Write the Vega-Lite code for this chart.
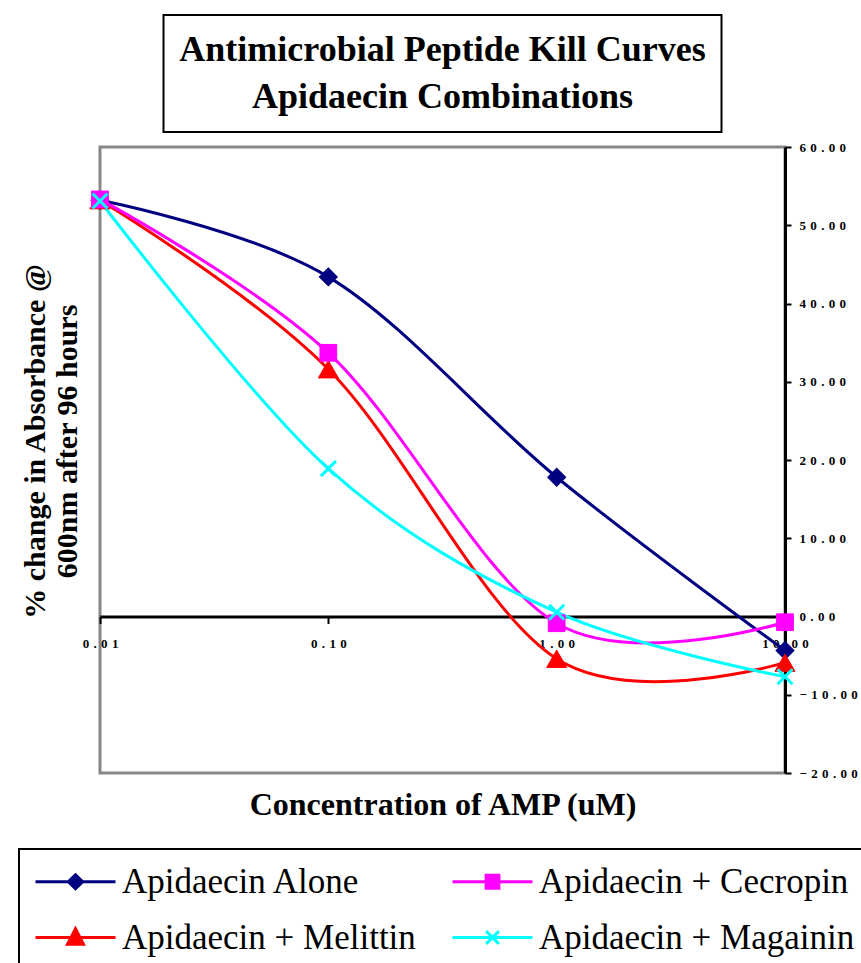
{
  "$schema": "https://vega.github.io/schema/vega-lite/v6.json",
  "background": "white",
  "padding": {"left": 18, "top": 14, "right": 0, "bottom": 0},
  "autosize": {"type": "pad"},
  "bounds": "flush",
  "center": true,
  "spacing": 15,
  "config": {
    "font": "Liberation Serif",
    "view": {"stroke": "#888888", "strokeWidth": 3},
    "axis": {"grid": false}
  },
  "vconcat": [
    {
      "width": 558,
      "height": 117,
      "view": {"stroke": "black", "strokeWidth": 2},
      "data": {"values": [
        {"line": 1, "text": "Antimicrobial Peptide Kill Curves"},
        {"line": 2, "text": "Apidaecin Combinations"}
      ]},
      "mark": {"type": "text", "font": "Liberation Serif", "fontWeight": "bold", "fontSize": 36, "baseline": "middle", "color": "black"},
      "encoding": {
        "y": {"field": "line", "type": "ordinal", "axis": null, "scale": {"type": "point", "padding": 0.76}},
        "text": {"field": "text"}
      }
    },
    {
      "width": 685,
      "height": 626,
      "data": {"values": [
        {"series": "Apidaecin Alone", "conc": 0.01, "pct": 53.2},
        {"series": "Apidaecin Alone", "conc": 0.1, "pct": 43.4},
        {"series": "Apidaecin Alone", "conc": 1, "pct": 17.8},
        {"series": "Apidaecin Alone", "conc": 10, "pct": -4.35},
        {"series": "Apidaecin + Melittin", "conc": 0.01, "pct": 53.2},
        {"series": "Apidaecin + Melittin", "conc": 0.1, "pct": 31.6},
        {"series": "Apidaecin + Melittin", "conc": 1, "pct": -5.4},
        {"series": "Apidaecin + Melittin", "conc": 10, "pct": -5.9},
        {"series": "Apidaecin + Cecropin", "conc": 0.01, "pct": 53.3},
        {"series": "Apidaecin + Cecropin", "conc": 0.1, "pct": 33.7},
        {"series": "Apidaecin + Cecropin", "conc": 1, "pct": -0.86},
        {"series": "Apidaecin + Cecropin", "conc": 10, "pct": -0.73},
        {"series": "Apidaecin + Magainin", "conc": 0.01, "pct": 53.1},
        {"series": "Apidaecin + Magainin", "conc": 0.1, "pct": 18.9},
        {"series": "Apidaecin + Magainin", "conc": 1, "pct": 0.55},
        {"series": "Apidaecin + Magainin", "conc": 10, "pct": -7.7}
      ]},
      "layer": [
        {
          "mark": {"type": "line", "interpolate": "cardinal", "strokeWidth": 3},
          "encoding": {
            "x": {"field": "conc", "type": "quantitative",
              "scale": {"type": "log", "domain": [0.01, 10]},
              "axis": {"orient": "bottom", "offset": -156.5, "values": [0.01, 0.1, 1, 10],
                "labelExpr": "join(split(format(datum.value, '.2f'), ''), '\u2004')",
                "labelFont": "Liberation Serif", "labelFontWeight": "bold", "labelFontSize": 13,
                "labelColor": "black", "labelPadding": 14, "labelFlush": false, "labelOverlap": false, "labelBound": false,
                "tickSize": 7, "tickWidth": 2, "tickColor": "black",
                "domainColor": "black", "domainWidth": 3, "title": null}},
            "y": {"field": "pct", "type": "quantitative",
              "scale": {"domain": [-20, 60], "nice": false, "zero": false},
              "axis": {"orient": "right", "values": [-20, -10, 0, 10, 20, 30, 40, 50, 60],
                "labelExpr": "join(split(format(datum.value, '.2f'), ''), '\u2004')",
                "labelFont": "Liberation Serif", "labelFontWeight": "bold", "labelFontSize": 13,
                "labelColor": "black", "labelPadding": 8, "labelFlush": false, "labelOverlap": false, "labelBound": false,
                "tickSize": 6, "tickWidth": 2, "tickColor": "black",
                "domainColor": "black", "domainWidth": 3, "title": null}},
            "color": {"field": "series", "type": "nominal",
              "scale": {"domain": ["Apidaecin Alone", "Apidaecin + Melittin", "Apidaecin + Cecropin", "Apidaecin + Magainin"],
                        "range": ["#000080", "#FF0000", "#FF00FF", "#00FFFF"]},
              "legend": {"orient": "none", "legendX": -81, "legendY": 834, "columns": 2, "title": null,
                "labelFont": "Liberation Serif", "labelFontSize": 35, "labelColor": "black", "labelLimit": 600,
                "labelOffset": 29, "symbolSize": 400, "symbolOffset": 24, "symbolStrokeWidth": 3,
                "columnPadding": 30, "rowPadding": 20, "padding": 15,
                "strokeColor": "black", "fillColor": "white",
                "encode": {
                  "legend": {"update": {"strokeWidth": {"value": 2}}},
                  "symbols": {"update": {
                    "shape": {"signal": "datum.value === 'Apidaecin Alone' ? 'M-4,0L4,0M0,-0.7L0.72,0L0,0.7L-0.72,0Z' : datum.value === 'Apidaecin + Cecropin' ? 'M-4,0L4,0M-0.64,-0.64L0.64,-0.64L0.64,0.64L-0.64,0.64Z' : datum.value === 'Apidaecin + Melittin' ? 'M-4,0L4,0M0,-0.88L0.8,0.68L-0.8,0.68Z' : 'M-4,0L4,0M-0.64,-0.64L0.64,0.64M-0.64,0.64L0.64,-0.64'"},
                    "fill": {"scale": "color", "field": "value"},
                    "strokeWidth": {"value": 3},
                    "size": {"value": 400},
                    "opacity": {"value": 1}
                  }}
                }}}
          }
        },
        {
          "transform": [{"filter": "datum.series === 'Apidaecin Alone'"}],
          "mark": {"type": "point", "shape": "diamond", "filled": true, "size": 300, "color": "#000080", "stroke": "#000080", "strokeWidth": 1.5, "opacity": 1},
          "encoding": {
            "x": {"field": "conc", "type": "quantitative",
              "scale": {"type": "log", "domain": [0.01, 10]},
              "axis": {"orient": "bottom", "title": "Concentration of AMP (uM)", "labels": false, "ticks": false, "domain": false,
                "titleFont": "Liberation Serif", "titleFontSize": 32, "titleFontWeight": "bold", "titleColor": "black", "titlePadding": 16}},
            "y": {"field": "pct", "type": "quantitative",
              "scale": {"domain": [-20, 60], "nice": false, "zero": false},
              "axis": {"orient": "left", "title": ["% change in Absorbance @", "600nm after 96 hours"], "labels": false, "ticks": false, "domain": false,
                "titleFont": "Liberation Serif", "titleFontSize": 30, "titleFontWeight": "bold", "titleColor": "black",
                "titlePadding": 18, "titleY": 294, "titleLineHeight": 32}}
          }
        },
        {
          "transform": [{"filter": "datum.series === 'Apidaecin + Melittin'"}],
          "mark": {"type": "point", "shape": "triangle-up", "filled": true, "size": 400, "color": "#FF0000", "stroke": "#FF0000", "strokeWidth": 1, "opacity": 1},
          "encoding": {
            "x": {"field": "conc", "type": "quantitative", "scale": {"type": "log", "domain": [0.01, 10]}, "axis": null},
            "y": {"field": "pct", "type": "quantitative", "scale": {"domain": [-20, 60], "nice": false, "zero": false}, "axis": null}
          }
        },
        {
          "transform": [{"filter": "datum.series === 'Apidaecin + Cecropin'"}],
          "mark": {"type": "point", "shape": "square", "filled": true, "size": 280, "color": "#FF00FF", "stroke": "#FF00FF", "strokeWidth": 1, "opacity": 1},
          "encoding": {
            "x": {"field": "conc", "type": "quantitative", "scale": {"type": "log", "domain": [0.01, 10]}, "axis": null},
            "y": {"field": "pct", "type": "quantitative", "scale": {"domain": [-20, 60], "nice": false, "zero": false}, "axis": null}
          }
        },
        {
          "transform": [{"filter": "datum.series === 'Apidaecin + Magainin'"}],
          "mark": {"type": "point", "shape": "M-1,-1L1,1M-1,1L1,-1", "filled": false, "size": 225, "stroke": "#00FFFF", "strokeWidth": 3, "opacity": 1},
          "encoding": {
            "x": {"field": "conc", "type": "quantitative", "scale": {"type": "log", "domain": [0.01, 10]}, "axis": null},
            "y": {"field": "pct", "type": "quantitative", "scale": {"domain": [-20, 60], "nice": false, "zero": false}, "axis": null}
          }
        }
      ],
      "resolve": {"axis": {"x": "independent", "y": "independent"}}
    }
  ]
}
